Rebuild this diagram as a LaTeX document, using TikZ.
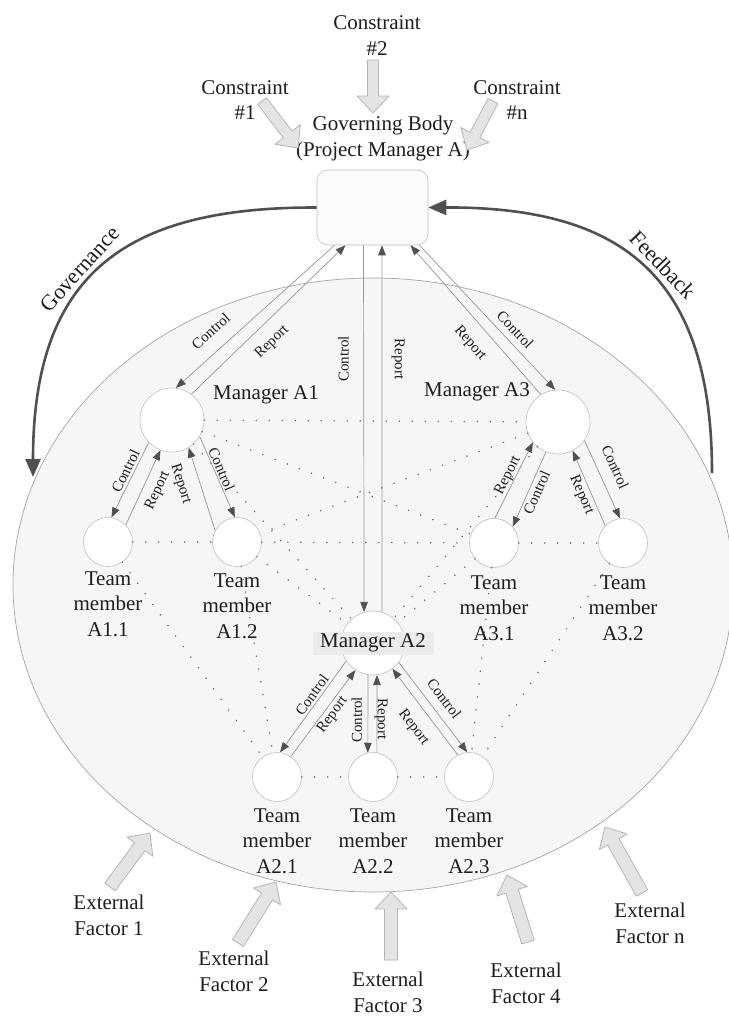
\documentclass[tikz,border=0pt]{standalone}
\usepackage{fontspec}
\setmainfont{Liberation Serif}
\usetikzlibrary{arrows.meta,calc}
\definecolor{lineg}{HTML}{969696}
\definecolor{tipg}{HTML}{505050}
\definecolor{arcg}{HTML}{505050}
\definecolor{dotg}{HTML}{6A6A6A}
\definecolor{bafill}{HTML}{E4E4E4}
\definecolor{baedge}{HTML}{B5B5B5}
\definecolor{ellfill}{HTML}{F6F6F6}
\definecolor{elledge}{HTML}{A5A5A5}
\definecolor{txt}{HTML}{1E1E1E}
\definecolor{mgrlab}{HTML}{EBEBEB}
\newcommand\bigfs{\fontsize{21}{25.5}\selectfont}
\newcommand\arcfs{\fontsize{22}{26}\selectfont}
\newcommand\smallfs{\fontsize{15}{17}\selectfont}
\newcommand\blockarr[3]{%
  \coordinate (bh) at ($(#2)!17pt!(#1)$);
  \filldraw[blockarrow] ($(#1)!#3!90:(#2)$) -- ($(bh)!#3!90:(#2)$) -- ($(bh)!16pt!90:(#2)$) -- (#2) -- ($(bh)!16pt!-90:(#2)$) -- ($(bh)!#3!-90:(#2)$) -- ($(#1)!#3!-90:(#2)$) -- cycle;}
\begin{document}
\begin{tikzpicture}[x=1pt,y=-1pt,
  txtnode/.style={font=\bigfs, text=txt, inner sep=0pt, align=center},
  lab/.style={font=\smallfs, text=txt, inner sep=0pt, text height=10pt, text depth=0pt},
  arclab/.style={font=\arcfs, text=txt, inner sep=0pt, text height=14pt, text depth=0pt},
  mgr/.style={circle, draw=gray!50, fill=white, minimum size=64pt, inner sep=0pt, line width=0.6pt},
  tm/.style={circle, draw=gray!50, fill=white, minimum size=49pt, inner sep=0pt, line width=0.6pt},
  gbox/.style={draw=gray!50, fill=white!97!gray, rounded corners=11pt, minimum width=111pt, minimum height=75pt, inner sep=0pt, line width=0.6pt},
  link/.style={draw=lineg, line width=0.7pt, -{Triangle[length=10pt,width=7.5pt,color=tipg]}},
  dots/.style={draw=dotg, line width=1.7pt, line cap=round, dash pattern=on 0pt off 13pt},
  bigarc/.style={draw=arcg, line width=2.6pt, -{Triangle[length=18pt,width=15pt]}},
  blockarrow/.style={fill=bafill, draw=baedge, line width=0.8pt, line join=round}]
\useasboundingbox (0,0) rectangle (728,1016);
\fill[white] (0,0) rectangle (728,1016);

% environment ellipse
\filldraw[fill=ellfill, draw=elledge, line width=0.7pt] (373,585) ellipse [x radius=360pt, y radius=307pt];

% nodes
\node[gbox] (GB) at (372.5,207.5) {};
\node[mgr] (A1) at (172,420) {};
\node[mgr] (A3) at (558,422) {};
\node[mgr] (A2) at (373,643) {};
\node[tm] (A11) at (108,542) {};
\node[tm] (A12) at (237,542) {};
\node[tm] (A31) at (494,543) {};
\node[tm] (A32) at (623,543) {};
\node[tm] (A21) at (277,777) {};
\node[tm] (A22) at (373,777) {};
\node[tm] (A23) at (469,777) {};

% governance / feedback arcs
\draw[bigarc] (GB.west) .. controls (127,207) and (33,272) .. (33,477)
  node[arclab, pos=0.55, sloped, anchor=south, outer ysep=7pt] {Governance};
\draw[bigarc] (712,473) .. controls (712,272) and (618,207) .. (GB.east)
  node[arclab, pos=0.46, sloped, anchor=south, outer ysep=7pt] {Feedback};

% dotted peer links
\foreach \a/\b in {A1/A3, A1/A31, A3/A12, A1/A2, A3/A2, A11/A12, A12/A31, A31/A32,
  A12/A2, A31/A2, A11/A21, A12/A21, A31/A23, A32/A23, A21/A22, A22/A23}
  \draw[dots] (\a) -- (\b);

% governing body <-> managers
\draw[link] ([xshift=-38pt]GB.south) -- node[lab, sloped, pos=.70, anchor=south, outer ysep=14pt] {Control} (A1.83);
\draw[link] (A1.53) -- node[lab, sloped, pos=.44, anchor=north, outer ysep=12pt] {Report} ([xshift=-27pt]GB.south);
\draw[link] ([xshift=-9pt]GB.south) -- node[lab, rotate=90, pos=.31, anchor=south, outer ysep=15pt] {Control} (A2.106);
\draw[link] (A2.74) -- node[lab, rotate=-90, pos=.69, anchor=south, outer ysep=13pt] {Report} ([xshift=9.5pt]GB.south);
\draw[link] (A3.122) -- node[lab, sloped, pos=.43, anchor=north, outer ysep=13pt] {Report} ([xshift=38pt]GB.south);
\draw[link] ([xshift=47pt]GB.south) -- node[lab, sloped, pos=.64, anchor=south, outer ysep=7pt] {Control} (A3.95);

% manager A1 <-> team
\draw[link] (A1.224) -- node[lab, sloped, pos=.43, anchor=south, outer ysep=3pt] {Control} (A11.82);
\draw[link] (A11.44) -- node[lab, sloped, pos=.54, anchor=north, outer ysep=8pt] {Report} (A1.249);
\draw[link] (A12.152) -- node[lab, sloped, pos=.63, anchor=north, outer ysep=12pt] {Report} (A1.301);
\draw[link] (A1.329) -- node[lab, sloped, pos=.44, anchor=south, outer ysep=2pt] {Control} (A12.95);

% manager A3 <-> team
\draw[link] (A31.88) -- node[lab, sloped, pos=.52, anchor=south, outer ysep=4pt] {Report} (A3.219);
\draw[link] (A3.248) -- node[lab, sloped, pos=.5, anchor=north, outer ysep=3pt] {Control} (A31.41);
\draw[link] (A32.136) -- node[lab, sloped, pos=.46, anchor=north, outer ysep=3pt] {Report} (A3.297);
\draw[link] (A3.325) -- node[lab, sloped, pos=.43, anchor=south, outer ysep=12pt] {Control} (A32.97);

% manager A2 <-> team
\draw[link] (A2.214) -- node[lab, sloped, pos=.42, anchor=south, outer ysep=3pt] {Control} (A21.83);
\draw[link] (A21.56) -- node[lab, sloped, pos=.54, anchor=north, outer ysep=2pt] {Report} (A2.237);
\draw[link] (A2.261) -- node[lab, rotate=90, pos=.58, anchor=south, outer ysep=6pt] {Control} (A22.102);
\draw[link] (A22.81) -- node[lab, rotate=-90, pos=.43, anchor=south, outer ysep=1pt] {Report} (A2.277);
\draw[link] (A23.117) -- node[lab, sloped, pos=.45, anchor=north, outer ysep=12pt] {Report} (A2.307);
\draw[link] (A2.323) -- node[lab, sloped, pos=.5, anchor=south, outer ysep=9pt] {Control} (A23.94);

% node texts
\node[txtnode] (LA1) at (266,395) {Manager A1};
\node[txtnode] (LA3) at (477,392) {Manager A3};
\node[txtnode, fill=mgrlab, minimum width=121pt, minimum height=23pt] (LA2) at (A2) {Manager A2};
\node[txtnode] (L11) at ([yshift=-62pt]A11.center) {Team\\member\\A1.1};
\node[txtnode] (L12) at ([yshift=-64pt]A12.center) {Team\\member\\A1.2};
\node[txtnode] (L31) at ([yshift=-65pt]A31.center) {Team\\member\\A3.1};
\node[txtnode] (L32) at ([yshift=-65pt]A32.center) {Team\\member\\A3.2};
\node[txtnode] (L21) at ([yshift=-64pt]A21.center) {Team\\member\\A2.1};
\node[txtnode] (L22) at ([yshift=-64pt]A22.center) {Team\\member\\A2.2};
\node[txtnode] (L23) at ([yshift=-64pt]A23.center) {Team\\member\\A2.3};

% governing body title and constraints
\node[txtnode] (GBL) at (383,138.5) {Governing Body\\(Project Manager A)};
\node[txtnode] (C2) at (377,35.5) {Constraint\\\#2};
\node[txtnode] (C1) at (245,100) {Constraint\\\#1};
\node[txtnode] (Cn) at (517,100) {Constraint\\\#n};
\coordinate (c1t) at (262,101); \coordinate (c1h) at (298,148);
\coordinate (c2t) at (373,60);  \coordinate (c2h) at (373,113);
\coordinate (cnt) at (493,101); \coordinate (cnh) at (467,150);
\blockarr{c1t}{c1h}{5.5pt}
\blockarr{c2t}{c2h}{5.5pt}
\blockarr{cnt}{cnh}{5.5pt}

% external factors
\node[txtnode] (E1) at (109,915.5) {External\\Factor 1};
\node[txtnode] (E2) at (234,971.5) {External\\Factor 2};
\node[txtnode] (E3) at (388,992.5) {External\\Factor 3};
\node[txtnode] (E4) at (526,983.5) {External\\Factor 4};
\node[txtnode] (En) at (650,923.5) {External\\Factor n};
\coordinate (e1t) at (110,887); \coordinate (e1h) at (150,833);
\coordinate (e2t) at (238,943); \coordinate (e2h) at (276,882);
\coordinate (e3t) at (391,960); \coordinate (e3h) at (391,892);
\coordinate (e4t) at (528,942); \coordinate (e4h) at (507,875);
\coordinate (ent) at (642,893); \coordinate (enh) at (605,827);
\blockarr{e1t}{e1h}{6.5pt}
\blockarr{e2t}{e2h}{6.5pt}
\blockarr{e3t}{e3h}{6.5pt}
\blockarr{e4t}{e4h}{6.5pt}
\blockarr{ent}{enh}{6.5pt}
\end{tikzpicture}
\end{document}
